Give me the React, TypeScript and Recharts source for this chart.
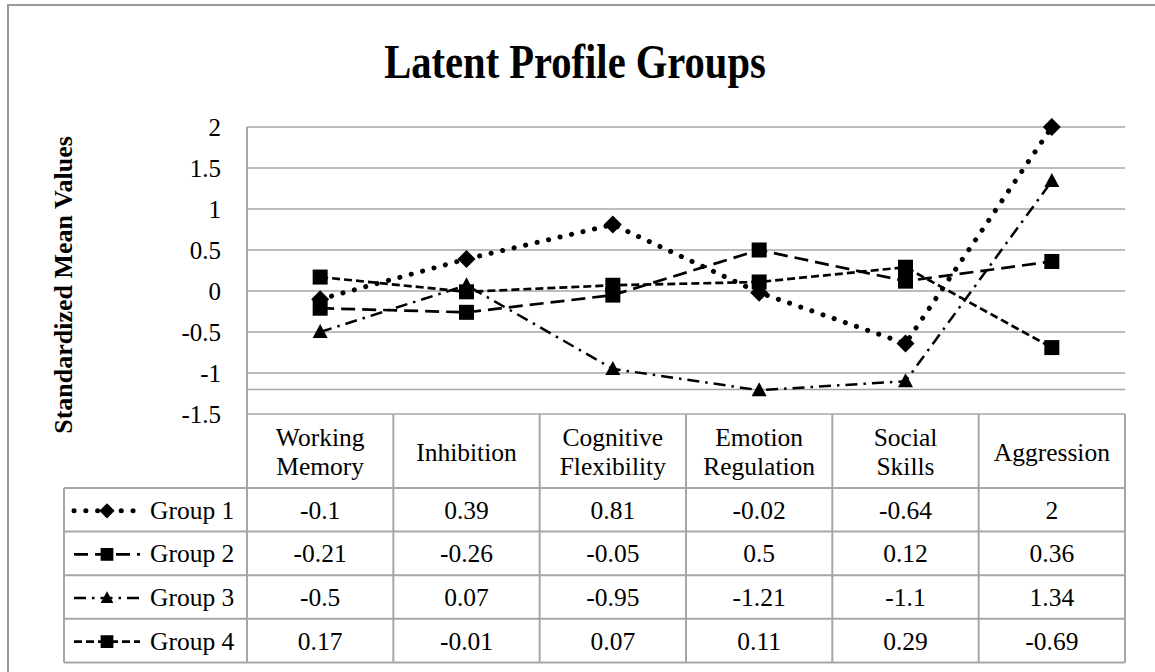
import React from 'react';
import { LineChart, Line, XAxis, YAxis, CartesianGrid, ReferenceLine } from 'recharts';

// values
const categories = [
  'Working Memory',
  'Inhibition',
  'Cognitive Flexibility',
  'Emotion Regulation',
  'Social Skills',
  'Aggression',
];
const groupNames = ['Group 1', 'Group 2', 'Group 3', 'Group 4'];
const group1 = [-0.1, 0.39, 0.81, -0.02, -0.64, 2];
const group2 = [-0.21, -0.26, -0.05, 0.5, 0.12, 0.36];
const group3 = [-0.5, 0.07, -0.95, -1.21, -1.1, 1.34];
const group4 = [0.17, -0.01, 0.07, 0.11, 0.29, -0.69];
const yTicks = [-1.5, -1, -0.5, 0, 0.5, 1, 1.5, 2];

const series = [group1, group2, group3, group4];
const seriesKeys = ['g1', 'g2', 'g3', 'g4'];

const data = categories.map((name, i) => {
  const row: any = { name };
  series.forEach((s, k) => {
    row[seriesKeys[k]] = s[i];
  });
  return row;
});

const FONT = "'Liberation Serif', 'Times New Roman', serif";
const GRID = '#a6a6a6';

// layout
const W = 1155;
const H = 672;
const PLOT_LEFT = 247;
const PLOT_RIGHT = 1125;
const PLOT_TOP = 127;
const PLOT_BOTTOM = 414;
const Y_AXIS_W = 60;
const X_AXIS_H = 250;
const COL_W = (PLOT_RIGHT - PLOT_LEFT) / categories.length;
const HEADER_H = 74;
const ROW_H = 43.6;
const LEGEND_LEFT = 64;

const STYLES = [
  { dash: '0.1 11.7', width: 5, cap: 'round', marker: 'diamond' },
  { dash: '14 7', width: 2.7, cap: 'butt', marker: 'square' },
  { dash: '12 6 2.5 6', width: 2.5, cap: 'butt', marker: 'triangle' },
  { dash: '8 4', width: 2.7, cap: 'butt', marker: 'square' },
];

const Marker = ({ cx, cy, kind, scale = 1 }: any) => {
  if (cx == null || cy == null) return null;
  if (kind === 'diamond') {
    const r = 9 * scale;
    return <path d={`M${cx},${cy - r}L${cx + r},${cy}L${cx},${cy + r}L${cx - r},${cy}Z`} fill="#000" />;
  }
  if (kind === 'square') {
    const h = 7.5 * scale;
    return <rect x={cx - h} y={cy - h} width={2 * h} height={2 * h} fill="#000" />;
  }
  const w = 7.5 * scale;
  return <path d={`M${cx},${cy - 8 * scale}L${cx + w},${cy + 6 * scale}L${cx - w},${cy + 6 * scale}Z`} fill="#000" />;
};

// x axis tick draws the category header and that column of the data table
const TableTick = (props: any) => {
  const { payload, y, index } = props;
  const cx = payload.coordinate;
  const left = cx - COL_W / 2;
  const right = cx + COL_W / 2;
  const words = String(payload.value).split(' ');
  const bottom = y + HEADER_H + ROW_H * groupNames.length;
  const lineProps = { stroke: GRID, strokeWidth: 2 };
  const textProps = { fontFamily: FONT, fontSize: 25.5, fill: '#000', textAnchor: 'middle' as const };

  return (
    <g>
      <line x1={left} x2={left} y1={y} y2={bottom} {...lineProps} />
      {index === categories.length - 1 && <line x1={right} x2={right} y1={y} y2={bottom} {...lineProps} />}
      {groupNames.map((_, r) => (
        <line key={r} x1={left} x2={right} y1={y + HEADER_H + ROW_H * r} y2={y + HEADER_H + ROW_H * r} {...lineProps} />
      ))}
      <line x1={left} x2={right} y1={bottom} y2={bottom} {...lineProps} />

      {words.length > 1 ? (
        <>
          <text x={cx} y={y + 32} {...textProps}>{words[0]}</text>
          <text x={cx} y={y + 61} {...textProps}>{words.slice(1).join(' ')}</text>
        </>
      ) : (
        <text x={cx} y={y + 47} {...textProps}>{words[0]}</text>
      )}

      {series.map((s, r) => (
        <text key={r} x={cx} y={y + HEADER_H + ROW_H * r + ROW_H / 2 + 9} {...textProps}>
          {s[index]}
        </text>
      ))}

      {index === 0 && (
        <g>
          <line x1={LEGEND_LEFT} x2={LEGEND_LEFT} y1={y + HEADER_H} y2={bottom} {...lineProps} />
          {groupNames.map((name, r) => {
            const top = y + HEADER_H + ROW_H * r;
            const my = top + ROW_H / 2 + 1;
            const st = STYLES[r];
            return (
              <g key={name}>
                <line x1={LEGEND_LEFT} x2={left} y1={top} y2={top} {...lineProps} />
                <line
                  x1={74}
                  x2={140}
                  y1={my}
                  y2={my}
                  stroke="#000"
                  strokeWidth={st.width}
                  strokeDasharray={st.dash}
                  strokeLinecap={st.cap as any}
                />
                <Marker cx={107} cy={my} kind={st.marker} scale={0.85} />
                <text x={150} y={top + ROW_H / 2 + 9} {...textProps} textAnchor="start">
                  {name}
                </text>
              </g>
            );
          })}
          <line x1={LEGEND_LEFT} x2={left} y1={bottom} y2={bottom} {...lineProps} />
        </g>
      )}
    </g>
  );
};

export default function App() {
  return (
    <div style={{ position: 'absolute', left: 0, top: 0, width: W, height: H, overflow: 'hidden', background: '#fff' }}>
      <LineChart
        width={W}
        height={H}
        data={data}
        margin={{ top: PLOT_TOP, right: W - PLOT_RIGHT, bottom: H - PLOT_BOTTOM - X_AXIS_H, left: PLOT_LEFT - Y_AXIS_W }}
      >
        <CartesianGrid vertical={false} stroke={GRID} strokeWidth={1.5} />
        <ReferenceLine y={-1.2} stroke={GRID} strokeWidth={1.5} />
        <XAxis
          dataKey="name"
          interval={0}
          height={X_AXIS_H}
          padding={{ left: COL_W / 2, right: COL_W / 2 }}
          axisLine={false}
          tickLine={false}
          tickSize={0}
          tickMargin={0}
          tick={(p: any) => <TableTick {...p} />}
        />
        <YAxis
          width={Y_AXIS_W}
          domain={[-1.5, 2]}
          ticks={yTicks}
          interval={0}
          axisLine={{ stroke: GRID, strokeWidth: 2 }}
          tickLine={false}
          tickSize={6}
          tickMargin={20}
          tick={{ fontSize: 25, fill: '#000', fontFamily: FONT }}
        />
        {seriesKeys.map((key, k) => {
          const st = STYLES[k];
          return (
            <Line
              key={key}
              dataKey={key}
              name={groupNames[k]}
              type="linear"
              stroke="#000"
              strokeWidth={st.width}
              strokeDasharray={st.dash}
              strokeLinecap={st.cap as any}
              dot={(p: any) => <Marker key={`${key}-${p.index}`} cx={p.cx} cy={p.cy} kind={st.marker} />}
              activeDot={false}
              isAnimationActive={false}
            />
          );
        })}
      </LineChart>

      <svg width={W} height={H} style={{ position: 'absolute', left: 0, top: 0, pointerEvents: 'none' }}>
        <line x1={8} x2={8} y1={4} y2={H} stroke="#999" strokeWidth={2} />
        <line x1={7} x2={W} y1={5} y2={5} stroke="#999" strokeWidth={2} />
        <text
          transform="translate(575,78) scale(0.845,1)"
          textAnchor="middle"
          fontFamily={FONT}
          fontWeight="bold"
          fontSize={48}
        >
          Latent Profile Groups
        </text>
        <text
          transform="translate(72,285) rotate(-90)"
          textAnchor="middle"
          fontFamily={FONT}
          fontWeight="bold"
          fontSize={26}
        >
          Standardized Mean Values
        </text>
      </svg>
    </div>
  );
}
